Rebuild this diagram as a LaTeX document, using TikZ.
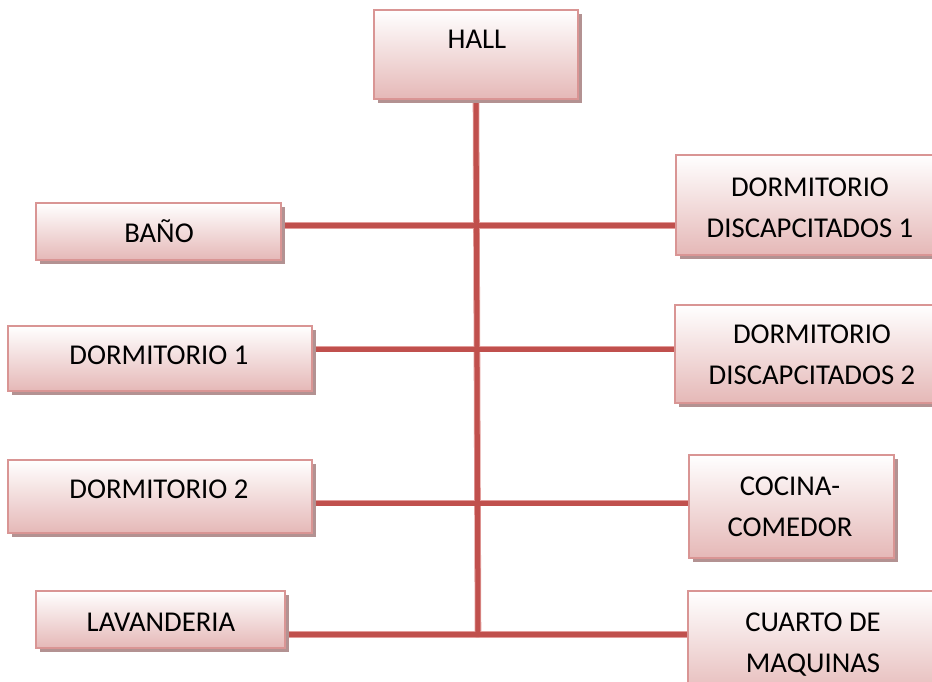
\documentclass[tikz,border=0pt]{standalone}
\usepackage{fontspec}
\setmainfont{Carlito}
\usetikzlibrary{shadows}
\pgfdeclarelayer{background}
\pgfsetlayers{background,main}
\definecolor{boxedge}{HTML}{D99594}
\definecolor{boxbot}{HTML}{E5B8B7}
\definecolor{shadowc}{HTML}{B39292}
\definecolor{linkc}{HTML}{C0504D}
\definecolor{linkedge}{HTML}{E29C9A}
\tikzset{
  roombox/.style={draw=boxedge, line width=2.2pt, top color=white, bottom color=boxbot,
    drop shadow={shadow xshift=3.5pt, shadow yshift=-4pt, fill=shadowc, opacity=1},
    inner sep=0pt},
  roomtxt/.style={inner sep=0pt, align=center, font=\fontsize{28.7}{41}\selectfont, text=black},
  onetxt/.style={roomtxt, text height=18.4pt, text depth=0pt},
  linkunder/.style={draw=linkedge, line width=6.6pt},
  linkline/.style={draw=linkc, line width=5pt}
}
\begin{document}
\begin{tikzpicture}[x=1pt,y=-1pt]
\useasboundingbox (0,0) rectangle (932,682);
% boxes
\node[roombox, minimum width=204pt, minimum height=89pt] (hall) at (476,54.5) {};
\node[roombox, minimum width=245pt, minimum height=57pt] (bano) at (158.5,231.5) {};
\node[roombox, minimum width=304pt, minimum height=65pt] (dorm1) at (160,358.5) {};
\node[roombox, minimum width=304pt, minimum height=73pt] (dorm2) at (160,496.5) {};
\node[roombox, minimum width=249pt, minimum height=57pt] (lav) at (160.5,619.5) {};
\node[roombox, minimum width=264pt, minimum height=100pt] (dd1) at (808,205) {};
\node[roombox, minimum width=265pt, minimum height=98pt] (dd2) at (807.5,354) {};
\node[roombox, minimum width=205pt, minimum height=103pt] (coc) at (791.5,506.5) {};
\node[roombox, minimum width=252pt, minimum height=109pt] (cua) at (814,645.5) {};
% texts
\node[onetxt] (thall) at (477,39.5) {HALL};
\node[onetxt] (tbano) at (159,233) {BAÑO};
\node[onetxt] (tdorm1) at (159,355.5) {DORMITORIO 1};
\node[onetxt] (tdorm2) at (159,489) {DORMITORIO 2};
\node[onetxt] (tlav) at (161,622) {LAVANDERIA};
\node[roomtxt] (tdd1) at (810,207.5) {DORMITORIO\\DISCAPCITADOS 1};
\node[roomtxt] (tdd2) at (812,354.5) {DORMITORIO\\DISCAPCITADOS 2};
\node[roomtxt] (tcoc) at (790,507) {COCINA-\\COMEDOR};
\node[roomtxt] (tcua) at (813,645) {CUARTO DE\\MAQUINAS};
% connector rows
\coordinate (r1) at (478,225.5);
\coordinate (r2) at (478,349);
\coordinate (r3) at (478,503);
\coordinate (r4) at (478,634.5);
\coordinate (spineend) at (478,637);
\begin{pgfonlayer}{background}
\foreach \st in {linkunder,linkline}{
  \draw[\st] (hall.south) -- (spineend);
  \draw[\st] (bano.east |- r1) -- (dd1.west |- r1);
  \draw[\st] (dorm1.east |- r2) -- (dd2.west |- r2);
  \draw[\st] (dorm2.east |- r3) -- (coc.west |- r3);
  \draw[\st] (lav.east |- r4) -- (cua.west |- r4);
}
\end{pgfonlayer}
\end{tikzpicture}
\end{document}
